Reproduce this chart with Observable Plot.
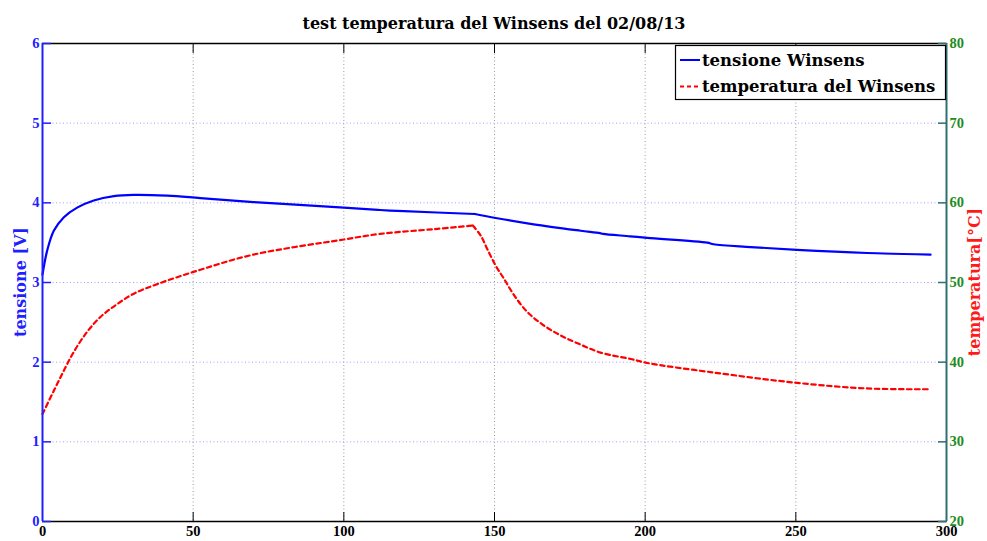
<!DOCTYPE html>
<html><head><meta charset="utf-8">
<script src="https://cdn.jsdelivr.net/npm/d3@7"></script>
<script src="https://cdn.jsdelivr.net/npm/@observablehq/plot@0.6"></script>
<style>body{margin:0;background:#fff;} svg{display:block;}</style>
</head><body><div id="chart"></div>
<script>
// ---- data ----
const tempoV = [0, 1.55, 3.75, 7.1, 11.5, 17, 23.7, 30.3, 41.4, 52.4, 70, 100, 112, 120, 143.5, 150.4, 163, 178.6, 185, 186, 195, 200.7, 220.6, 222.7, 235, 250.4, 273.7, 294.7];
const tensione = [3.10, 3.40, 3.65, 3.82, 3.94, 4.03, 4.085, 4.10, 4.09, 4.06, 4.01, 3.94, 3.91, 3.895, 3.86, 3.81, 3.73, 3.65, 3.62, 3.61, 3.58, 3.56, 3.50, 3.48, 3.445, 3.41, 3.37, 3.35];
const tempoT = [0, 3.75, 7.1, 10.4, 14.8, 19.3, 24.8, 30.3, 38.1, 52.4, 70, 100, 112, 130, 142.8, 145.4, 147.6, 150.4, 153.1, 156.5, 160.9, 166.4, 172, 178, 185.2, 195.2, 200.7, 222.7, 250.4, 273.7, 294.7];
const temperatura = [33.5, 36.4, 38.95, 41.3, 43.8, 45.7, 47.3, 48.6, 49.8, 51.6, 53.5, 55.4, 56.1, 56.7, 57.15, 55.9, 54.2, 52.1, 50.5, 48.4, 46.3, 44.6, 43.35, 42.3, 41.2, 40.4, 39.9, 38.7, 37.4, 36.7, 36.6];
const picco = 143.6; // time of the heater switch-off (corner of both curves)

const xTicks = [0, 50, 100, 150, 200, 250, 300];
const vTicks = [0, 1, 2, 3, 4, 5, 6];
const tTicks = [20, 30, 40, 50, 60, 70, 80];
const titolo = "test temperatura del Winsens del 02/08/13";
const labelV = "tensione [V]";
const labelT = "temperatura[°C]";
const legendLabels = ["tensione Winsens", "temperatura del Winsens"];

// temperature axis (20..80) shares the frame with voltage (0..6)
const toV = t => (t - tTicks[0]) / (tTicks[1] - tTicks[0]);
const dataV = tempoV.map((x, i) => ({x, y: tensione[i], seg: x <= picco ? 0 : 1}));
const dataT = tempoT.map((x, i) => ({x, y: toV(temperatura[i]), seg: x <= picco ? 0 : 1}));
// duplicate the corner point into the second segment so the line is continuous
function splitAt(arr) {
  const out = [];
  arr.forEach((d, i) => {
    out.push(d);
    if (d.seg === 0 && arr[i + 1] && arr[i + 1].seg === 1) out.push({...d, seg: 1});
  });
  return out;
}

const TEXTFONT = "'DejaVu Serif', serif";
const TICKFONT = "'Liberation Serif', 'DejaVu Serif', serif";
const BLUE = "#1f1fff", GREEN = "#1e8c1e", TEAL = "#2f6f70";

const plot = Plot.plot({
  width: 987, height: 541,
  marginLeft: 42, marginRight: 41, marginTop: 43, marginBottom: 20,
  style: {background: "white", overflow: "visible"},
  x: {domain: [0, 300]},
  y: {domain: [0, 6]},
  marks: [
    Plot.gridX(xTicks.slice(1, -1), {stroke: "#9a9a9a", strokeOpacity: 1, strokeDasharray: "1,2.5"}),
    Plot.gridY(vTicks.slice(1, -1), {stroke: "#a0a0ff", strokeOpacity: 1, strokeDasharray: "1,2.5"}),
    Plot.line(splitAt(dataT), {x: "x", y: "y", z: "seg", stroke: "red", strokeWidth: 2.2, strokeDasharray: "4.5,3.5", curve: "catmull-rom"}),
    Plot.line(splitAt(dataV), {x: "x", y: "y", z: "seg", stroke: "blue", strokeWidth: 2.2, curve: "catmull-rom"}),
    Plot.ruleY([0], {stroke: "black", strokeWidth: 1.6}),
    Plot.ruleY([6], {stroke: "black", strokeWidth: 1.3}),
    Plot.axisX({anchor: "bottom", ticks: xTicks, tickSize: -9, tickPadding: 13, color: "black", label: null, tickFormat: d => String(d)}),
    Plot.axisX({anchor: "top", ticks: xTicks, tickSize: -9, tickPadding: 0, color: "black", tickFormat: () => "", label: null}),
    Plot.axisY({anchor: "left", ticks: vTicks, tickSize: -9, tickPadding: 12, color: BLUE, strokeWidth: 1.5, label: null, tickFormat: d => String(d)}),
    Plot.axisY({anchor: "right", ticks: vTicks, tickSize: -9, tickPadding: 12, stroke: TEAL, fill: GREEN, strokeWidth: 1.5, tickFormat: (d, i) => String(tTicks[i]), label: null}),
    Plot.ruleX([0], {stroke: BLUE, strokeWidth: 2}),
    Plot.ruleX([300], {stroke: TEAL, strokeWidth: 2})
  ]
});
document.getElementById("chart").appendChild(plot);

const svg = d3.select(plot);
// tick-label typography (bold serif like the original) — applied to every text Plot drew
svg.selectAll("g").filter(function() { return this.querySelector(":scope > text"); })
  .attr("font-family", TICKFONT).attr("font-size", 14.5).attr("font-weight", "bold");
svg.selectAll("text")
  .style("font-family", TICKFONT).style("font-size", "14.5px").style("font-weight", "bold");

// ---- title, axis labels, legend ----
const W = 987, H = 541, mL = 42, mR = 41, mT = 43, mB = 20;
const cx = (mL + W - mR) / 2, cy = (mT + H - mB) / 2;
svg.append("text").attr("x", cx).attr("y", 29).attr("text-anchor", "middle")
  .style("font-family", TEXTFONT).style("font-size", "16px").style("font-weight", "bold").attr("fill", "black").text(titolo);
svg.append("text").attr("transform", `translate(20,${cy}) rotate(-90)`).attr("text-anchor", "middle").attr("dominant-baseline", "central")
  .style("font-family", TEXTFONT).style("font-size", "16px").style("font-weight", "bold").attr("fill", BLUE).text(labelV);
svg.append("text").attr("transform", `translate(974,${cy}) rotate(-90)`).attr("text-anchor", "middle").attr("dominant-baseline", "central")
  .style("font-family", TEXTFONT).style("font-size", "16px").style("font-weight", "bold").attr("fill", "#ff1a1a").text(labelT);

const lg = svg.append("g");
lg.append("rect").attr("x", 675.5).attr("y", 45.5).attr("width", 270).attr("height", 54)
  .attr("fill", "white").attr("stroke", "black").attr("stroke-width", 1.2);
const styles = [{stroke: "blue", dash: null}, {stroke: "red", dash: "4,3"}];
legendLabels.forEach((t, i) => {
  const y = 60 + i * 26.5;
  lg.append("line").attr("x1", 680).attr("x2", 700).attr("y1", y).attr("y2", y)
    .attr("stroke", styles[i].stroke).attr("stroke-width", 2).attr("stroke-dasharray", styles[i].dash);
  lg.append("text").attr("x", 702).attr("y", y).attr("text-anchor", "start").attr("dominant-baseline", "central")
    .style("font-family", TEXTFONT).style("font-size", "16.5px").style("font-weight", "bold").attr("fill", "black").text(t);
});
</script>
</body></html>
